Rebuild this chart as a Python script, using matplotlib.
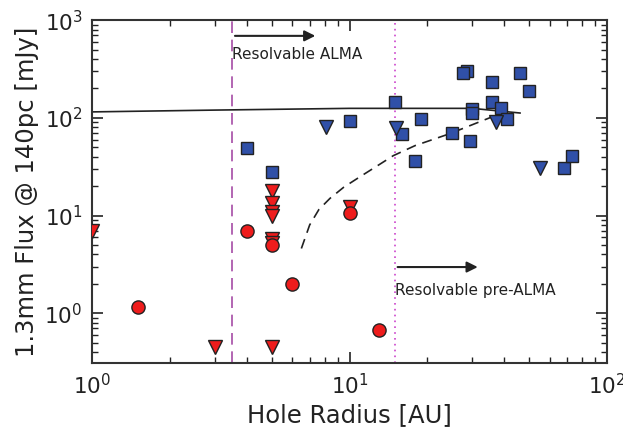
import numpy as np
import matplotlib.pyplot as plt

# detections (squares) and upper limits (triangles), transition discs
blue_sq_r = [4, 5, 10, 15, 16, 19, 18, 25, 29.4, 28.5, 27.5, 30, 30, 35.8, 35.8, 38.8, 41, 46, 50, 68, 73]
blue_sq_f = [49, 28, 93, 146, 69, 98, 36, 70, 58, 305, 285, 123, 113, 233, 146, 126, 98, 288, 189, 31, 41]
blue_tri_r = [8.1, 15.2, 37, 55]
blue_tri_f = [80, 78, 90, 31]

red_tri_r = [1.0, 5, 5, 5, 5, 5, 5, 3, 5, 10]
red_tri_f = [7.0, 18, 13.4, 10.8, 9.8, 5.8, 5.2, 0.45, 0.45, 12.3]
red_circ_r = [1.5, 4, 5, 6, 10, 13]
red_circ_f = [1.16, 6.9, 5.0, 1.98, 10.6, 0.67]

# model curves
solid_r = [1, 3, 10, 30, 46]
solid_f = [115, 120, 125, 125, 112]
dashed_r = [6.5, 7.0, 7.6, 8.4, 9.5, 11, 13, 14.8, 18, 24.6, 30, 38.4]
dashed_f = [4.6, 8.0, 11.5, 15.0, 19.5, 25, 33, 41, 52, 69, 85, 110]

alma_r = 3.5
prealma_r = 15

fig = plt.figure(figsize=(6.23, 4.28), dpi=100)
ax = fig.add_axes([0.148, 0.152, 0.826, 0.801])

ax.plot(solid_r, solid_f, color='#222222', lw=1.2, zorder=2)
ax.plot(dashed_r, dashed_f, color='#222222', lw=1.2, ls=(0, (6, 4)), zorder=2)

ax.axvline(alma_r, color='#a64ca6', lw=1.2, ls=(0, (7, 4)), zorder=1)
ax.axvline(prealma_r, color='#cc44cc', lw=1.2, ls=(0, (1, 2.5)), zorder=1)

mk = dict(ls='none', markeredgecolor='#222222', markeredgewidth=1.0, zorder=3)
ax.plot(blue_sq_r, blue_sq_f, marker='s', ms=9, color='#3050a8', **mk)
ax.plot(blue_tri_r, blue_tri_f, marker='v', ms=9.5, color='#3050a8', **mk)
ax.plot(red_tri_r, red_tri_f, marker='v', ms=9.5, color='#ee1c1c', **mk)
ax.plot(red_circ_r, red_circ_f, marker='o', ms=9.5, color='#ee1c1c', **mk)

ax.annotate('', xy=(7.55, 690), xytext=(alma_r, 690),
            arrowprops=dict(arrowstyle='-|>', color='#222222', lw=1.5, mutation_scale=16))
ax.text(alma_r, 450, 'Resolvable ALMA', fontsize=11, color='#222222', va='center', ha='left')
ax.annotate('', xy=(32.3, 2.97), xytext=(prealma_r, 2.97),
            arrowprops=dict(arrowstyle='-|>', color='#222222', lw=1.5, mutation_scale=16))
ax.text(prealma_r, 1.7, 'Resolvable pre-ALMA', fontsize=11, color='#222222', va='center', ha='left')

ax.set_xscale('log')
ax.set_yscale('log')
ax.set_xlim(1, 100)
ax.set_ylim(0.31, 1000)

ax.set_xlabel('Hole Radius [AU]', fontsize=17.5, color='#222222')
ax.set_ylabel('1.3mm Flux @ 140pc [mJy]', fontsize=17.5, color='#222222')
ax.tick_params(which='both', direction='in', top=True, right=True, colors='#222222', labelsize=15.5)
ax.tick_params(which='major', length=8, width=1.2, pad=7)
ax.tick_params(which='minor', length=4, width=1)
for s in ax.spines.values():
    s.set_linewidth(1.5)
    s.set_color('#333333')

fig.savefig('out.png', dpi=100)
